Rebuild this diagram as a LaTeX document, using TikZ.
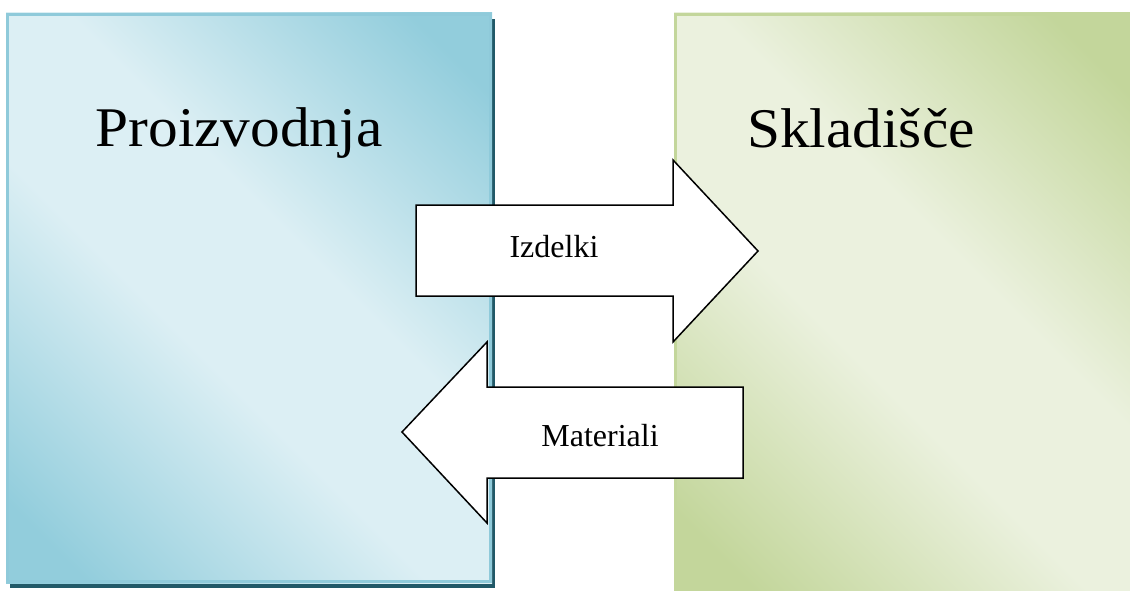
\documentclass[tikz,border=0pt]{standalone}
\usepackage{fontspec}
\setmainfont{Liberation Serif}
\definecolor{bluedark}{HTML}{92CDDC}
\definecolor{bluelight}{HTML}{DCEFF4}
\definecolor{blueedge}{HTML}{8FCADA}
\definecolor{blueshadow}{HTML}{215968}
\definecolor{greendark}{HTML}{C3D69B}
\definecolor{greenlight}{HTML}{EBF1DE}
\definecolor{greenedge}{HTML}{C3D69B}
\pgfdeclareverticalshading{bluediag}{100bp}{color(0bp)=(bluedark); color(20bp)=(bluedark); color(43bp)=(bluelight); color(57bp)=(bluelight); color(80bp)=(bluedark); color(100bp)=(bluedark)}
\pgfdeclareverticalshading{greendiag}{100bp}{color(0bp)=(greendark); color(20bp)=(greendark); color(43bp)=(greenlight); color(57bp)=(greenlight); color(80bp)=(greendark); color(100bp)=(greendark)}
\tikzset{
  arrowshape/.style={draw=black, fill=white, line width=1.5pt, line join=miter},
  bigtitle/.style={anchor=base, inner sep=0pt, font=\fontsize{56}{60}\selectfont},
  smalltitle/.style={anchor=base, inner sep=0pt, font=\fontsize{32}{36}\selectfont},
}
\begin{document}
\begin{tikzpicture}[x=1pt, y=-1pt]
\useasboundingbox (0,0) rectangle (1130,591);
% left box shadow
\fill[blueshadow] (10,19) rectangle (494.5,588);
% left box
\path[shading=bluediag, shading angle=-45] (6,13) rectangle (492,583);
\draw[blueedge, line width=3pt] (7.5,14.5) rectangle (490.5,581.5);
% right box
\path[shading=greendiag, shading angle=-45] (674,13) rectangle (1130,591);
\draw[greenedge, line width=3pt] (675.5,591) -- (675.5,14.5) -- (1130,14.5);
% arrows
\draw[arrowshape] (416,205) -- (673,205) -- (673,160) -- (758,251) -- (673,342) -- (673,296) -- (416,296) -- cycle;
\draw[arrowshape] (402,432) -- (487,342) -- (487,387) -- (743,387) -- (743,478) -- (487,478) -- (487,523) -- cycle;
% texts
\node[bigtitle] (proizvodnja) at (239,147) {\scalebox{1.06}[1]{Proizvodnja}};
\node[bigtitle] (skladisce) at (861,148) {\scalebox{1.06}[1]{Skladišče}};
\node[smalltitle] (izdelki) at (554,257) {Izdelki};
\node[smalltitle] (materiali) at (600,446) {Materiali};
\end{tikzpicture}
\end{document}
